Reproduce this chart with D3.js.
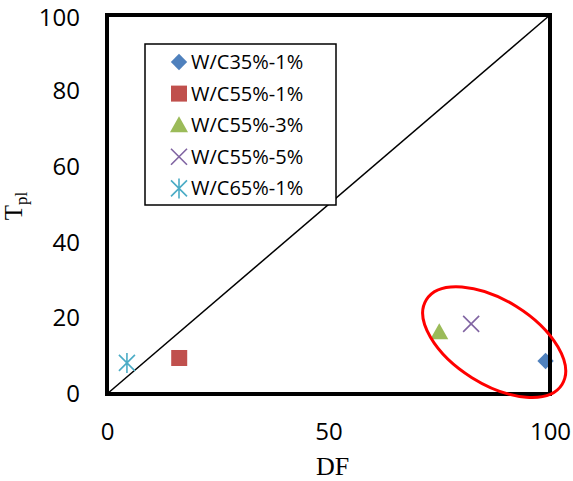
<!DOCTYPE html>
<html>
<head>
<meta charset="utf-8">
<script src="https://cdn.jsdelivr.net/npm/d3@7"></script>
<style>
  body { margin: 0; background: #fff; }
  svg { display: block; }
</style>
</head>
<body>
<svg id="chart" width="573" height="481"></svg>
<script>
// Series, one point each (DF, Tpl)
const seriesNames = ["W/C35%-1%", "W/C55%-1%", "W/C55%-3%", "W/C55%-5%", "W/C65%-1%"];
const dfValues = [99, 16.3, 75, 82.2, 4.5];
const tplValues = [8.7, 9.5, 16.3, 18.5, 8.2];
const xTicks = [0, 50, 100];
const yTicks = [0, 20, 40, 60, 80, 100];

const colors = ["#4F81BD", "#C0504D", "#9BBB59", "#8064A2", "#4BACC6"];
const shapes = ["diamond", "square", "triangle", "cross", "star"];

const svg = d3.select("#chart");
const margin = { left: 107, right: 23, top: 15, bottom: 87 };
const width = 573 - margin.left - margin.right;
const height = 481 - margin.top - margin.bottom;

const x = d3.scaleLinear().domain([0, 100]).range([margin.left, margin.left + width]);
const y = d3.scaleLinear().domain([0, 100]).range([margin.top + height, margin.top]);

// 1:1 line
svg.append("line")
    .attr("x1", x(0)).attr("y1", y(0))
    .attr("x2", x(100)).attr("y2", y(100))
    .attr("stroke", "#000").attr("stroke-width", 1.5);

// Axes labels (no tick marks)
svg.append("g")
    .attr("transform", `translate(0,${y(0)})`)
    .call(d3.axisBottom(x).tickValues(xTicks).tickSize(0).tickPadding(29))
    .call(g => g.select(".domain").remove())
    .selectAll("text")
    .attr("font-family", "'Open Sans', sans-serif")
    .attr("font-size", 24)
    .attr("fill", "#000");

svg.append("g")
    .attr("transform", `translate(${x(0)},0)`)
    .call(d3.axisLeft(y).tickValues(yTicks).tickSize(0).tickPadding(27))
    .call(g => g.select(".domain").remove())
    .selectAll("text")
    .attr("font-family", "'Open Sans', sans-serif")
    .attr("font-size", 24)
    .attr("fill", "#000")
    .attr("dy", (d) => (d === 100 ? "0.42em" : "0.32em"));

// Axis titles
svg.append("text")
    .attr("x", x(50) + 4).attr("y", 475)
    .attr("text-anchor", "middle")
    .attr("font-family", "'Liberation Serif', 'Times New Roman', serif")
    .attr("font-size", 26)
    .text("DF");

const yt = svg.append("text")
    .attr("transform", `translate(22,206) rotate(-90)`)
    .attr("text-anchor", "middle")
    .attr("font-family", "'Liberation Serif', 'Times New Roman', serif")
    .attr("font-size", 25);
yt.append("tspan").text("T");
yt.append("tspan").attr("font-size", 17).attr("dy", 5).text("pl");

// Marker drawing
function drawMarker(g, shape, color) {
    if (shape === "diamond") {
        g.append("path").attr("d", d3.symbol(d3.symbolDiamond2, 170)()).attr("fill", color);
    } else if (shape === "square") {
        g.append("rect").attr("x", -8).attr("y", -8).attr("width", 16).attr("height", 16).attr("fill", color);
    } else if (shape === "triangle") {
        g.append("path").attr("d", "M0,-9L9,7L-9,7Z").attr("fill", color);
    } else if (shape === "cross") {
        g.append("path").attr("d", "M-8,-8L8,8M-8,8L8,-8")
            .attr("stroke", color).attr("stroke-width", 1.6).attr("fill", "none");
    } else if (shape === "star") {
        g.append("path").attr("d", "M-8,-8L8,8M-8,8L8,-8M0,-10L0,10")
            .attr("stroke", color).attr("stroke-width", 1.6).attr("fill", "none");
    }
}

// Points
seriesNames.forEach((name, i) => {
    const g = svg.append("g").attr("transform", `translate(${x(dfValues[i])},${y(tplValues[i])})`);
    drawMarker(g, shapes[i], colors[i]);
});

// Plot border
svg.append("rect")
    .attr("x", x(0)).attr("y", y(100))
    .attr("width", width).attr("height", height)
    .attr("fill", "none").attr("stroke", "#000").attr("stroke-width", 4);

// Highlight ellipse around the three right-hand points
svg.append("ellipse")
    .attr("transform", `translate(${x(87.4)},${y(13.7)}) rotate(32)`)
    .attr("rx", 80).attr("ry", 42)
    .attr("fill", "none").attr("stroke", "#FF0000").attr("stroke-width", 3);

// Legend
const legend = svg.append("g");
legend.append("rect")
    .attr("x", 145).attr("y", 44).attr("width", 191).attr("height", 161)
    .attr("fill", "#fff").attr("stroke", "#000").attr("stroke-width", 1.5);
seriesNames.forEach((name, i) => {
    const ly = 62 + i * 31.6;
    const g = legend.append("g").attr("transform", `translate(179,${ly})`);
    drawMarker(g, shapes[i], colors[i]);
    legend.append("text")
        .attr("x", 191).attr("y", ly + 7)
        .attr("font-family", "'Open Sans', sans-serif")
        .attr("font-size", 20)
        .text(name);
});
</script>
</body>
</html>
